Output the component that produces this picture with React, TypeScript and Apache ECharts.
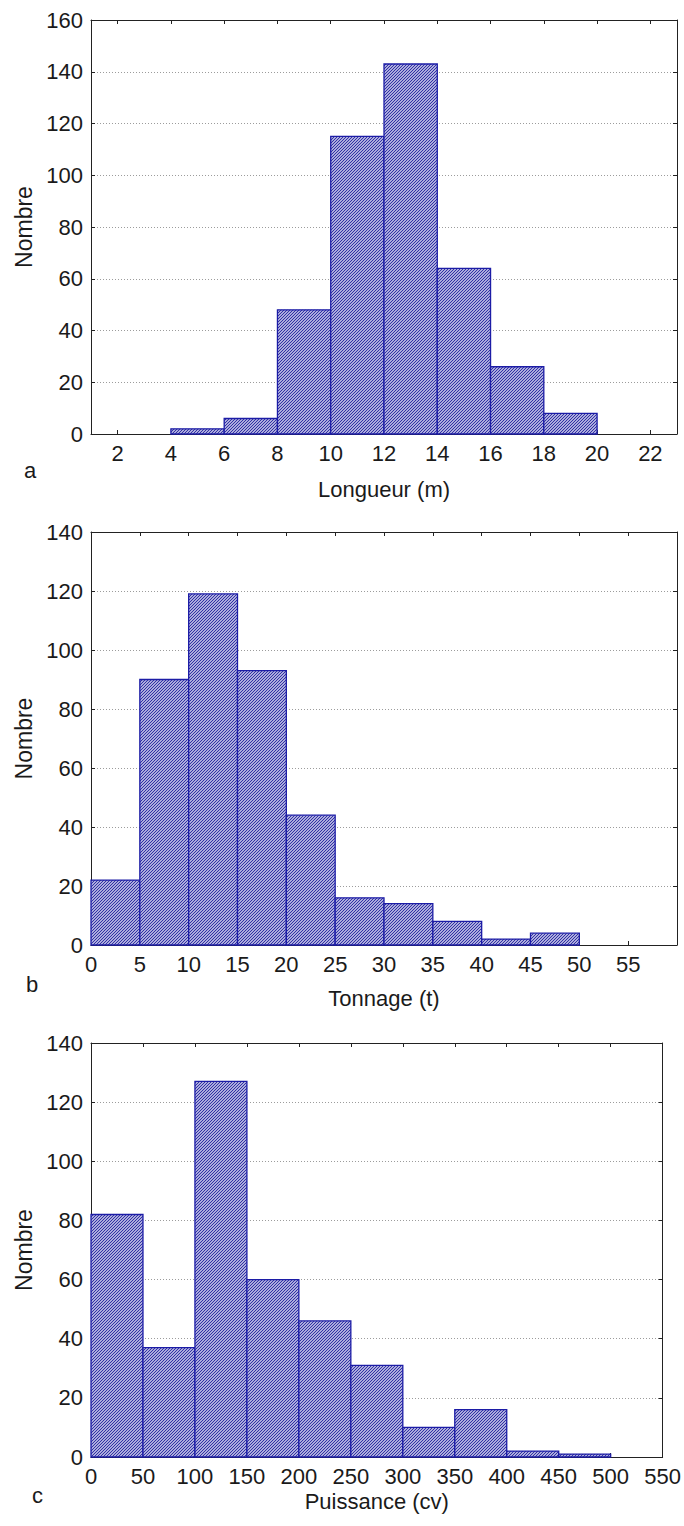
import React, { useEffect, useRef } from "react";
import * as echarts from "echarts";

// ---- Data ----
const lengthLow = [4, 6, 8, 10, 12, 14, 16, 18];
const lengthHigh = [6, 8, 10, 12, 14, 16, 18, 20];
const lengthCounts = [2, 6, 48, 115, 143, 64, 26, 8];
const lengthTicks = [2, 4, 6, 8, 10, 12, 14, 16, 18, 20, 22];

const tonnageLow = [0, 5, 10, 15, 20, 25, 30, 35, 40, 45];
const tonnageHigh = [5, 10, 15, 20, 25, 30, 35, 40, 45, 50];
const tonnageCounts = [22, 90, 119, 93, 44, 16, 14, 8, 2, 4];
const tonnageTicks = [0, 5, 10, 15, 20, 25, 30, 35, 40, 45, 50, 55];

const powerLow = [0, 50, 100, 150, 200, 250, 300, 350, 400, 450];
const powerHigh = [50, 100, 150, 200, 250, 300, 350, 400, 450, 500];
const powerCounts = [82, 37, 127, 60, 46, 31, 10, 16, 2, 1];
const powerTicks = [0, 50, 100, 150, 200, 250, 300, 350, 400, 450, 500, 550];

const yLabel = "Nombre";

const panels = [
  { letter: "a", xName: "Longueur (m)", low: lengthLow, high: lengthHigh, counts: lengthCounts, ticks: lengthTicks, xMin: 1, xMax: 23, yMax: 160 },
  { letter: "b", xName: "Tonnage (t)", low: tonnageLow, high: tonnageHigh, counts: tonnageCounts, ticks: tonnageTicks, xMin: 0, xMax: 60, yMax: 140 },
  { letter: "c", xName: "Puissance (cv)", low: powerLow, high: powerHigh, counts: powerCounts, ticks: powerTicks, xMin: 0, xMax: 550, yMax: 140 },
];

// ---- Layout ----
const layout = [
  { left: 91, top: 20, width: 586, height: 414, nameGap: 44, letterX: 30, letterY: 472 },
  { left: 91, top: 532, width: 586, height: 413, nameGap: 42, letterX: 32, letterY: 986 },
  { left: 91, top: 1043, width: 572, height: 414, nameGap: 33, letterX: 38, letterY: 1497 },
];

const FONT = "'Liberation Sans', Arial, sans-serif";
const TEXT = "#1a1a1a";
const AXIS = "#222222";
const BLUE = "#1c1ca6";

function makeHatch(): string {
  const s = 3;
  const c = document.createElement("canvas");
  c.width = s;
  c.height = s;
  const ctx = c.getContext("2d")!;
  ctx.fillStyle = "#e2e2f6";
  ctx.fillRect(0, 0, s, s);
  ctx.strokeStyle = "#2828a0";
  ctx.lineWidth = 1.1;
  ctx.beginPath();
  ctx.moveTo(-1, s + 1);
  ctx.lineTo(s + 1, -1);
  ctx.moveTo(-1, 1);
  ctx.lineTo(1, -1);
  ctx.moveTo(s - 1, s + 1);
  ctx.lineTo(s + 1, s - 1);
  ctx.stroke();
  return c.toDataURL();
}

export default function App() {
  const ref = useRef<HTMLDivElement>(null);

  useEffect(() => {
    if (!ref.current) return;
    const chart = echarts.init(ref.current, null, { renderer: "svg" });
    const hatch = { image: makeHatch(), repeat: "repeat", imageWidth: 3, imageHeight: 3 };

    const grids: any[] = [];
    const xAxes: any[] = [];
    const yAxes: any[] = [];
    const series: any[] = [];
    const graphics: any[] = [];

    panels.forEach((p, i) => {
      const L = layout[i];
      grids.push({ left: L.left, top: L.top, width: L.width, height: L.height, containLabel: false });
      xAxes.push({
        type: "value",
        gridIndex: i,
        position: "bottom",
        min: p.xMin,
        max: p.xMax,
        name: p.xName,
        nameLocation: "middle",
        nameGap: L.nameGap,
        nameTextStyle: { fontSize: 22, color: TEXT, fontFamily: FONT },
        axisLine: { show: true, onZero: false, lineStyle: { color: AXIS, width: 1 } },
        axisTick: { show: true, inside: true, length: 4, customValues: p.ticks, lineStyle: { color: AXIS } },
        axisLabel: { show: true, customValues: p.ticks, fontSize: 22, color: TEXT, fontFamily: FONT, margin: 8 },
        splitLine: { show: false },
      });
      xAxes.push({
        type: "value",
        gridIndex: i,
        position: "top",
        min: p.xMin,
        max: p.xMax,
        axisLine: { show: true, onZero: false, lineStyle: { color: AXIS, width: 1 } },
        axisTick: { show: true, inside: true, length: 4, customValues: p.ticks, lineStyle: { color: AXIS } },
        axisLabel: { show: false },
        splitLine: { show: false },
      });
      yAxes.push({
        type: "value",
        gridIndex: i,
        position: "left",
        min: 0,
        max: p.yMax,
        interval: 20,
        name: yLabel,
        nameLocation: "middle",
        nameGap: 56,
        nameTextStyle: { fontSize: 23, color: TEXT, fontFamily: FONT },
        axisLine: { show: true, onZero: false, lineStyle: { color: AXIS, width: 1 } },
        axisTick: { show: true, inside: true, length: 4, lineStyle: { color: AXIS } },
        axisLabel: { fontSize: 22, color: TEXT, fontFamily: FONT, margin: 8 },
        splitLine: { show: true, lineStyle: { color: "#9c9c9c", width: 1, type: [1, 2] } },
      });
      yAxes.push({
        type: "value",
        gridIndex: i,
        position: "right",
        min: 0,
        max: p.yMax,
        interval: 20,
        axisLine: { show: true, onZero: false, lineStyle: { color: AXIS, width: 1 } },
        axisTick: { show: true, inside: true, length: 4, lineStyle: { color: AXIS } },
        axisLabel: { show: false },
        splitLine: { show: false },
      });

      const data = p.counts.map((c, k) => [p.low[k], p.high[k], c]);
      series.push({
        type: "custom",
        xAxisIndex: i * 2,
        yAxisIndex: i * 2,
        data,
        encode: { x: [0, 1], y: 2 },
        z: 3,
        renderItem: (_params: any, api: any) => {
          const tl = api.coord([api.value(0), api.value(2)]);
          const br = api.coord([api.value(1), 0]);
          return {
            type: "rect",
            shape: { x: tl[0], y: tl[1], width: br[0] - tl[0], height: br[1] - tl[1] },
            style: { fill: hatch, stroke: BLUE, lineWidth: 1.3 },
          };
        },
      });

      graphics.push({
        type: "text",
        left: L.letterX - 6,
        top: L.letterY - 13,
        style: { text: p.letter, fontSize: 22, fill: TEXT, fontFamily: FONT },
      });
    });

    chart.setOption({
      animation: false,
      backgroundColor: "#ffffff",
      grid: grids,
      xAxis: xAxes,
      yAxis: yAxes,
      series,
      graphic: graphics,
    });

    return () => chart.dispose();
  }, []);

  return (
    <div
      ref={ref}
      style={{ position: "absolute", left: 0, top: 0, width: 684, height: 1526, background: "#fff" }}
    />
  );
}
